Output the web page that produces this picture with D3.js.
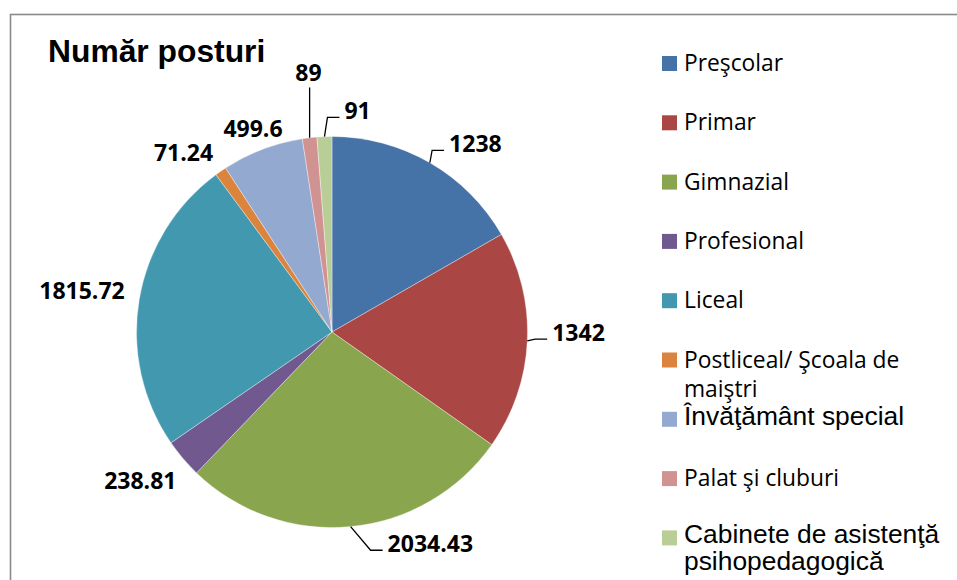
<!DOCTYPE html>
<html>
<head>
<meta charset="utf-8">
<script src="https://cdn.jsdelivr.net/npm/d3@7"></script>
<style>
body { margin: 0; background: #fff; }
svg { display: block; }
</style>
</head>
<body>
<svg id="chart" width="957" height="580"></svg>
<script>
// data
var categories = ["Preşcolar", "Primar", "Gimnazial", "Profesional", "Liceal",
    "Postliceal/ Şcoala de maiştri", "Învăţământ special", "Palat şi cluburi",
    "Cabinete de asistenţă psihopedagogică"];
var values = [1238, 1342, 2034.43, 238.81, 1815.72, 71.24, 499.6, 89, 91];
var valueLabels = ["1238", "1342", "2034.43", "238.81", "1815.72", "71.24", "499.6", "89", "91"];
var legendLines = [["Preşcolar"], ["Primar"], ["Gimnazial"], ["Profesional"], ["Liceal"],
    ["Postliceal/ Şcoala de", "maiştri"], ["Învăţământ special"], ["Palat şi cluburi"],
    ["Cabinete de asistenţă", "psihopedagogică"]];
var colors = ["#4572A7", "#AA4643", "#89A54E", "#71588F", "#4198AF",
    "#DB843D", "#93A9CF", "#D19392", "#B9CD96"];
var title = "Număr posturi";

// label placement: distance from centre, angle nudge (deg), leader kind
var labelPlace = [[237, 7.2, "side"], [246.5, -2.6, "side"], [233, -19.5, "side"],
    [242, 2.7, null], [253.5, 0, null], [233, -4.9, null], [219, -0.3, null],
    [260.6, 1.4, "below"], [223, 8.8, "side"]];
var arialLegend = [false, false, false, false, false, false, true, false, true];

var svg = d3.select("#chart");
var cx = 332, cy = 332, radius = 195.5;

// outer frame
svg.append("rect")
    .attr("x", 10.5).attr("y", 14.5)
    .attr("width", 1000).attr("height", 1000)
    .attr("fill", "none")
    .attr("stroke", "#8a8a8a")
    .attr("stroke-width", 1.6);

svg.append("text")
    .attr("x", 48).attr("y", 62)
    .attr("font-family", "Liberation Sans, Arial, sans-serif")
    .attr("font-weight", "bold")
    .attr("font-size", 31.8)
    .attr("fill", "#000")
    .text(title);

var pie = d3.pie().sort(null).value(function (d) { return d; });
var arcs = pie(values);
var arc = d3.arc().innerRadius(0).outerRadius(radius);

var g = svg.append("g").attr("transform", "translate(" + cx + "," + cy + ")");
g.selectAll("path")
    .data(arcs)
    .enter().append("path")
    .attr("d", arc)
    .attr("fill", function (d, i) { return colors[i]; })
    .attr("stroke", "#ffffff")
    .attr("stroke-opacity", 0.6)
    .attr("stroke-width", 0.6);

function polar(angle, r) {
    return [Math.sin(angle) * r, -Math.cos(angle) * r];
}

// data labels + leader lines
var labels = g.selectAll("text.val")
    .data(arcs)
    .enter().append("text")
    .attr("class", "val")
    .attr("font-family", "Open Sans, sans-serif")
    .attr("font-weight", "bold")
    .attr("font-size", 23)
    .attr("text-anchor", "middle")
    .attr("dominant-baseline", "central")
    .attr("fill", "#000")
    .attr("transform", function (d, i) {
        var mid = (d.startAngle + d.endAngle) / 2 + labelPlace[i][1] * Math.PI / 180;
        var p = polar(mid, labelPlace[i][0]);
        return "translate(" + p[0] + "," + p[1] + ")";
    })
    .text(function (d, i) { return valueLabels[i]; });

labels.each(function (d, i) {
    var kind = labelPlace[i][2];
    if (!kind) return;
    var mid = (d.startAngle + d.endAngle) / 2;
    var start = polar(mid, radius);
    var lp = polar(mid + labelPlace[i][1] * Math.PI / 180, labelPlace[i][0]);
    var w = this.getComputedTextLength();
    var pts;
    if (kind === "side") {
        var left = lp[0] - w / 2;
        pts = [start, [left - 17, lp[1] + 7], [left - 5, lp[1] + 7]];
    } else {
        pts = [start, [start[0], lp[1] + 15]];
    }
    g.append("path")
        .attr("d", d3.line()(pts))
        .attr("fill", "none")
        .attr("stroke", "#000")
        .attr("stroke-width", 1.3);
});

// legend
var legendY = d3.scaleLinear().domain([0, categories.length - 1]).range([56, 530.4]);
var legend = svg.selectAll("g.leg")
    .data(categories)
    .enter().append("g")
    .attr("class", "leg")
    .attr("transform", function (d, i) { return "translate(662," + legendY(i) + ")"; });

legend.append("rect")
    .attr("width", 15).attr("height", 15)
    .attr("fill", function (d, i) { return colors[i]; });

legend.each(function (d, i) {
    var arial = arialLegend[i];
    var t = d3.select(this).append("text")
        .attr("x", 22)
        .attr("y", arial ? 13 : 15)
        .attr("font-family", arial ? "Liberation Sans, Arial, sans-serif" : "Open Sans, sans-serif")
        .attr("font-size", arial ? 26.4 : 22.8)
        .attr("fill", "#000");
    legendLines[i].forEach(function (line, j) {
        t.append("tspan")
            .attr("x", 22)
            .attr("dy", j === 0 ? 0 : (arial ? 27 : 29))
            .text(line);
    });
});
</script>
</body>
</html>
